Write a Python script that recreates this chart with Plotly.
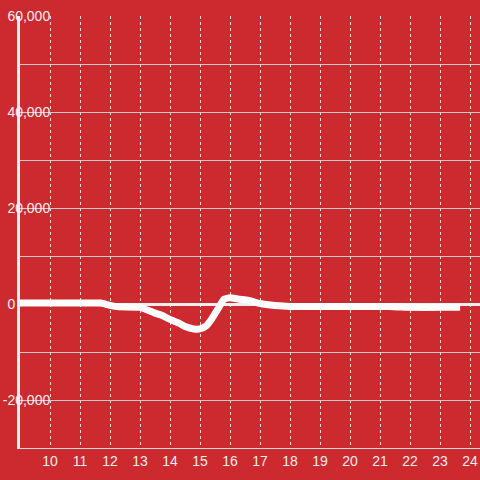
import plotly.graph_objects as go

# data
hours = [9.0, 10.0, 11.0, 11.7, 12.0, 12.3, 13.0, 13.3, 13.5, 13.7, 14.0, 14.3, 14.5, 14.8, 15.0, 15.2,
         15.4, 15.6, 15.8, 16.0, 16.3, 16.6, 17.0, 17.5, 18.0, 19.0, 20.0, 21.0, 21.6, 22.0, 23.0, 23.67]
values = [200, 200, 200, 200, -300, -600, -700, -1400, -1900, -2300, -3200, -4000, -4700, -5200, -5200, -4600,
          -3000, -1000, 1000, 1300, 1000, 800, 100, -300, -500, -500, -500, -500, -600, -700, -700, -700]

x_ticks = list(range(10, 25))
y_ticks = [-20000, 0, 20000, 40000, 60000]
y_labels = ["-20,000", "0", "20,000", "40,000", "60,000"]

bg = "#cc2a2e"
txt = "#eeeeee"
tick_font = dict(family="Liberation Sans, Arial, sans-serif", size=14, color=txt)

# the short "0" label sits at the left like the others: pad it with no-break spaces
y_text = [lab if len(lab) > 1 else lab + "\u00a0" * 9 for lab in y_labels]

fig = go.Figure()
fig.add_trace(go.Scatter(x=hours, y=values, mode="lines",
                         line=dict(color="white", width=7, shape="spline", smoothing=0.4),
                         hoverinfo="skip", showlegend=False))

# background boxes behind the long y tick labels (cover gridlines like the reference)
plot_w = 460.0
label_right = 52.0 - 20.0
for v, lab in zip(y_ticks, y_labels):
    if len(lab) == 1:
        continue
    w = sum(4.7 if c in ",-" else 7.8 for c in lab)
    fig.add_shape(type="rect", xref="paper", yref="y", layer="between",
                  x0=(label_right - w - 1) / plot_w, x1=(label_right + 1) / plot_w,
                  y0=v - 1600, y1=v + 1600, fillcolor=bg, line=dict(width=0))

fig.update_layout(
    width=480, height=480,
    margin=dict(l=20, r=0, t=16, b=32, autoexpand=False),
    paper_bgcolor=bg, plot_bgcolor=bg,
    font=tick_font,
    showlegend=False,
)
fig.update_xaxes(
    range=[9, 24.333], tickvals=x_ticks, ticktext=[str(v) for v in x_ticks],
    showgrid=True, gridcolor="#dddddd", griddash="dot", gridwidth=1,
    showline=True, linecolor="#dddddd", linewidth=1,
    zeroline=False, ticks="", fixedrange=True, automargin=False, tickfont=tick_font,
)
fig.update_yaxes(
    range=[-30000, 60000], tickvals=y_ticks, ticktext=y_text,
    showgrid=True, gridcolor="#cccccc", gridwidth=1,
    minor=dict(dtick=10000, showgrid=True, gridcolor="#cccccc", gridwidth=1),
    showline=True, linecolor="#eeeeee", linewidth=3,
    zeroline=True, zerolinecolor="#eeeeee", zerolinewidth=3,
    ticks="", ticklabelstandoff=-36, fixedrange=True, automargin=False, tickfont=tick_font,
)

fig.write_html("out.html", config={"displayModeBar": False},
               post_script="document.body.style.margin='0';document.body.style.background='%s';" % bg)
